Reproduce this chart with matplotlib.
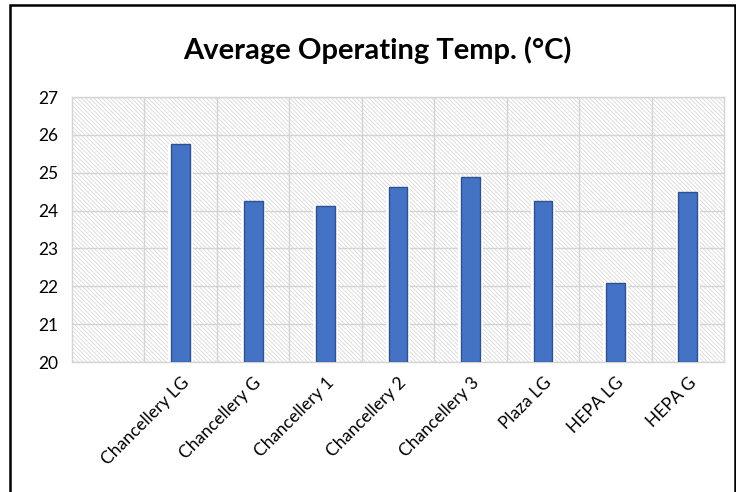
import matplotlib.pyplot as plt
from matplotlib.patches import Rectangle

# average operating temperature per site (deg C)
sites = ["", "Chancellery LG", "Chancellery G", "Chancellery 1", "Chancellery 2",
         "Chancellery 3", "Plaza LG", "HEPA LG", "HEPA G"]
temps = [None, 25.75, 24.25, 24.12, 24.62, 24.88, 24.25, 22.1, 24.5]
y_ticks = [20, 21, 22, 23, 24, 25, 26, 27]

plt.rcParams["font.family"] = ["Lato", "DejaVu Sans"]
plt.rcParams["hatch.linewidth"] = 0.5
plt.rcParams["hatch.color"] = "#d2d2d2"

fig = plt.figure(figsize=(7.36, 4.92), dpi=100)
ax = fig.add_axes([0.0978, 0.2642, 0.886, 0.5386])

# hatched plot area
ax.patch.set_facecolor("white")
ax.patch.set_hatch("\\" * 8)
ax.patch.set_edgecolor("#d2d2d2")

xs = list(range(len(sites)))
vals = [v for v in temps if v is not None]
bx = [x for x, v in zip(xs, temps) if v is not None]
# white halo behind each bar
ax.bar(bx, [v - 20 for v in vals], bottom=20, width=0.34, color="white",
       edgecolor="none", zorder=2)
ax.bar(bx, [v - 20 for v in vals], bottom=20, width=0.26, color="#4472c4",
       edgecolor="#2f528f", linewidth=1.0, zorder=3)

ax.set_xlim(-0.5, len(sites) - 0.5)
ax.set_ylim(20, 27)
ax.set_yticks(y_ticks)
ax.set_yticklabels([str(t) for t in y_ticks], fontsize=12.5)

# vertical grid between categories
ax.set_xticks([x + 0.5 for x in xs[:-1]], minor=True)
ax.set_xticks(xs)
ax.set_xticklabels(sites, rotation=45, ha="right", rotation_mode="anchor",
                   fontsize=12.5)
ax.grid(axis="y", which="major", color="#d4d4d4", linewidth=1.0, zorder=1)
ax.grid(axis="x", which="minor", color="#d4d4d4", linewidth=1.0, zorder=1)
ax.tick_params(axis="both", which="both", length=0)
ax.tick_params(axis="x", pad=9)
ax.tick_params(axis="y", pad=10)
ax.set_axisbelow(True)
for side, sp in ax.spines.items():
    sp.set_color("#d4d4d4")
    sp.set_linewidth(1.0)

fig.text(0.513, 0.898, "Average Operating Temp. (\u00b0C)", ha="center",
         va="center", fontsize=21, fontweight="bold")

# outer frame
fig.patches.append(Rectangle((0.014, -0.01), 0.984, 1.0, transform=fig.transFigure,
                             fill=False, edgecolor="black", linewidth=1.8))

fig.savefig("out.png", dpi=100)
